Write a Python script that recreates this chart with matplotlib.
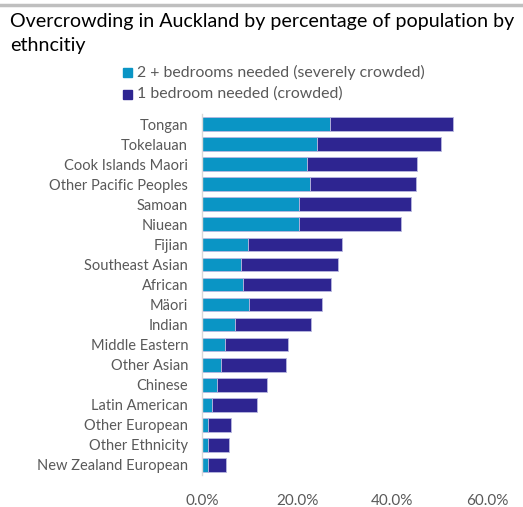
import matplotlib
matplotlib.use("Agg")
import matplotlib.pyplot as plt
from matplotlib.ticker import FuncFormatter
from matplotlib.lines import Line2D
import numpy as np

# ---- data (percent of population), top to bottom as in the chart ----
groups = ["Tongan", "Tokelauan", "Cook Islands Maori", "Other Pacific Peoples",
          "Samoan", "Niuean", "Fijian", "Southeast Asian", "African", "Mäori",
          "Indian", "Middle Eastern", "Other Asian", "Chinese", "Latin American",
          "Other European", "Other Ethnicity", "New Zealand European"]
severe = [26.9, 24.2, 22.2, 22.7, 20.4, 20.4, 9.6, 8.2, 8.7, 9.8,
          6.9, 4.8, 4.1, 3.2, 2.0, 1.2, 1.2, 1.2]
crowded = [26.0, 26.2, 23.1, 22.4, 23.5, 21.5, 19.8, 20.5, 18.4, 15.5,
           16.1, 13.2, 13.6, 10.5, 9.6, 4.9, 4.5, 3.8]
series_names = ["2 + bedrooms needed (severely crowded)", "1 bedroom needed (crowded)"]
xticks = [0, 20, 40, 60]

c_severe = "#0A95C5"
c_crowd = "#2E2591"
txt = "#595959"
plt.rcParams['font.family'] = ['Lato', 'DejaVu Sans']

fig = plt.figure(figsize=(5.23, 5.07), dpi=100)
ax = fig.add_axes([202/523, 1-475/507, 285/523, 361/507])

y = np.arange(len(groups))
ax.barh(y, severe, height=0.68, color=c_severe, edgecolor="#B8B8E0", linewidth=0.6)
ax.barh(y, crowded, left=severe, height=0.68, color=c_crowd, edgecolor="#B8B8E0", linewidth=0.6)

ax.set_ylim(len(groups)-0.5, -0.5)
ax.set_xlim(0, 60)
ax.set_yticks(y)
ax.set_yticklabels(groups, fontsize=10.5, color=txt)
ax.set_xticks(xticks)
ax.xaxis.set_major_formatter(FuncFormatter(lambda v, p: f"{v:.1f}%"))
ax.tick_params(axis='x', labelsize=11, colors=txt, length=0, pad=14)
ax.tick_params(axis='y', length=0, pad=10)
for s in ["top", "right", "bottom"]:
    ax.spines[s].set_visible(False)
ax.spines["left"].set_color("#D9D9D9")
ax.spines["left"].set_linewidth(1.0)

fig.text(10/523, 1-22/507, "Overcrowding in Auckland by percentage of population by",
         fontsize=14.1, color="black", va="center", ha="left")
fig.text(10/523, 1-46/507, "ethncitiy", fontsize=14.1, color="black", va="center", ha="left")

# legend as stacked entries
for i, (name, c) in enumerate(zip(series_names, [c_severe, c_crowd])):
    yy = 1 - (72 + 22*i)/507
    fig.patches.append(plt.Rectangle((123/523, yy - 4.5/507), 9/523, 9/507,
                                     transform=fig.transFigure, color=c))
    fig.text(137/523, yy, name, fontsize=11.4, color=txt, va="center", ha="left")

fig.add_artist(Line2D([0, 1], [1-4.5/507, 1-4.5/507], transform=fig.transFigure,
                      color="#BFBFBF", lw=2.5))

plt.savefig("out.png", dpi=100)
